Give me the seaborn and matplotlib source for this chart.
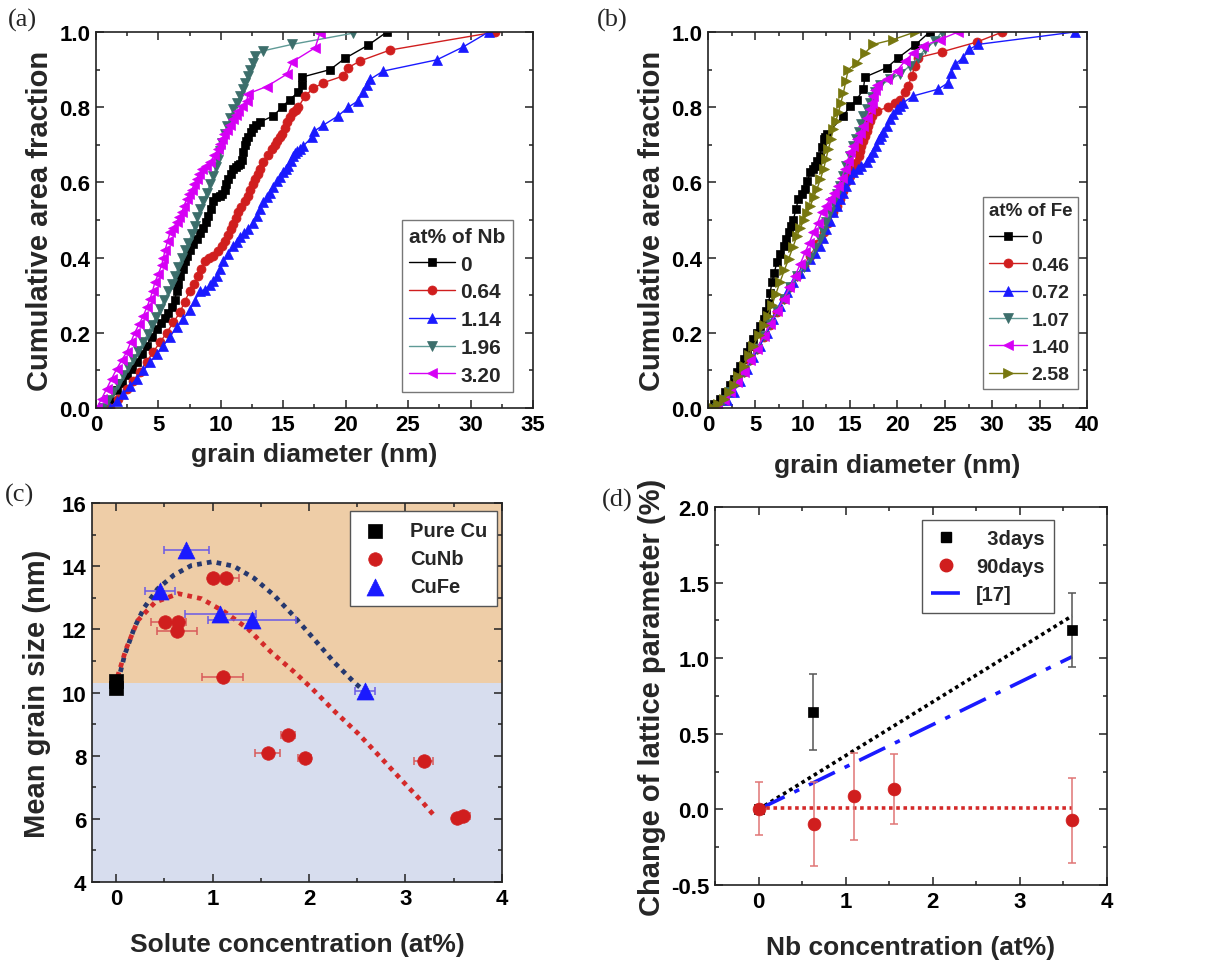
import matplotlib
matplotlib.use("Agg")
import matplotlib.pyplot as plt
import seaborn as sns
from matplotlib.lines import Line2D
from matplotlib.ticker import MultipleLocator

sns.set_theme(style="ticks")
plt.rcParams['font.family'] = ['Liberation Sans', 'DejaVu Sans']
plt.rcParams['font.weight'] = 'bold'
plt.rcParams['axes.labelweight'] = 'bold'
plt.rcParams['axes.unicode_minus'] = False

# ---------------- Panel (a): Nb ----------------
a_labels = ["0", "0.64", "1.14", "1.96", "3.20"]
a_nb0_x = [0.8, 1.2, 1.66, 2.05, 2.46, 2.85, 3.26, 3.65, 4.06, 4.45, 4.86, 5.2, 5.53, 5.8, 6.06, 6.3, 6.46, 6.6, 6.73,
           6.95, 7.13, 7.3, 7.5, 7.8, 8.06, 8.35, 8.6, 8.8, 9.0, 9.2, 9.4, 9.65, 9.94, 10.1, 10.3, 10.45, 10.6, 10.8,
           11.0, 11.2, 11.4, 11.55, 11.7, 11.8, 11.9, 12.05, 12.2, 12.4, 12.6, 12.85, 13.1, 14.2, 14.9, 15.5, 16.2,
           16.5, 16.5, 18.75, 19.95, 21.8, 23.3]
a_nb0_y = [0.0, 0.02, 0.047, 0.066, 0.087, 0.104, 0.122, 0.143, 0.166, 0.19, 0.21, 0.226, 0.24, 0.253, 0.27, 0.288,
           0.31, 0.33, 0.35, 0.37, 0.39, 0.405, 0.42, 0.435, 0.45, 0.465, 0.48, 0.495, 0.51, 0.53, 0.55, 0.56, 0.565,
           0.57, 0.58, 0.595, 0.61, 0.622, 0.635, 0.64, 0.645, 0.65, 0.66, 0.68, 0.70, 0.71, 0.72, 0.733, 0.745,
           0.752, 0.76, 0.777, 0.80, 0.82, 0.84, 0.86, 0.88, 0.90, 0.93, 0.965, 1.0]
a_nb064_x = [1.1, 1.8, 2.5, 3.0, 3.5, 4.05, 4.6, 5.13, 5.66, 6.2, 6.73, 7.1, 7.5, 7.85, 8.2, 8.45, 8.73, 9.05, 9.4,
             9.75, 10.07, 10.35, 10.6, 10.8, 11.0, 11.2, 11.4, 11.65, 11.94, 12.15, 12.34, 12.55, 12.74, 12.95,
             13.14, 13.4, 13.75, 14.08, 14.3, 14.5, 14.7, 14.9, 15.1, 15.3, 15.55, 15.8, 16.0, 16.2, 16.75, 17.4,
             18.2, 19.8, 20.2, 21.15, 23.55, 32.0]
a_nb064_y = [0.0, 0.025, 0.05, 0.073, 0.096, 0.123, 0.15, 0.175, 0.20, 0.228, 0.255, 0.283, 0.31, 0.33, 0.35, 0.37,
             0.39, 0.398, 0.405, 0.418, 0.43, 0.445, 0.46, 0.475, 0.49, 0.505, 0.52, 0.535, 0.55, 0.565, 0.58,
             0.595, 0.61, 0.622, 0.635, 0.653, 0.672, 0.69, 0.70, 0.71, 0.72, 0.73, 0.745, 0.76, 0.773, 0.786,
             0.793, 0.80, 0.83, 0.85, 0.865, 0.883, 0.905, 0.923, 0.952, 1.0]
a_nb114_x = [1.1, 1.65, 2.2, 2.7, 3.26, 3.8, 4.33, 4.87, 5.4, 5.93, 6.46, 7.0, 7.5, 7.9, 8.33, 8.7, 9.13, 9.4, 9.67,
             9.95, 10.2, 10.6, 11.0, 11.27, 11.54, 11.87, 12.2, 12.55, 12.87, 13.13, 13.4, 13.67, 13.94, 14.2, 14.5,
             14.75, 15.0, 15.2, 15.4, 15.6, 15.8, 15.95, 16.1, 16.35, 16.6, 17.3, 17.5, 18.2, 19.4, 20.2, 21.0,
             21.4, 21.7, 21.95, 23.0, 27.3, 29.4, 31.45]
a_nb114_y = [0.0, 0.018, 0.038, 0.058, 0.078, 0.10, 0.122, 0.144, 0.166, 0.19, 0.215, 0.238, 0.26, 0.285, 0.31,
             0.315, 0.326, 0.338, 0.35, 0.37, 0.39, 0.41, 0.43, 0.442, 0.454, 0.465, 0.476, 0.493, 0.51, 0.528,
             0.547, 0.56, 0.573, 0.588, 0.604, 0.615, 0.627, 0.635, 0.644, 0.657, 0.67, 0.677, 0.684, 0.69, 0.697,
             0.72, 0.737, 0.752, 0.777, 0.80, 0.817, 0.84, 0.858, 0.874, 0.896, 0.926, 0.96, 1.0]
a_nb196_x = [0.6, 1.0, 1.4, 1.8, 2.2, 2.6, 3.0, 3.4, 3.8, 4.13, 4.46, 4.8, 5.13, 5.47, 5.8, 6.07, 6.33, 6.6, 6.86,
             7.13, 7.4, 7.67, 7.93, 8.13, 8.33, 8.6, 8.87, 9.13, 9.4, 9.6, 9.8, 9.93, 10.07, 10.3, 10.5, 10.75, 11.0,
             11.27, 11.54, 11.74, 11.94, 12.14, 12.34, 12.54, 12.74, 13.4, 15.7, 20.6]
a_nb196_y = [0.0, 0.021, 0.042, 0.064, 0.087, 0.108, 0.13, 0.152, 0.175, 0.197, 0.22, 0.242, 0.264, 0.287, 0.31,
             0.33, 0.35, 0.375, 0.40, 0.42, 0.44, 0.462, 0.485, 0.507, 0.53, 0.55, 0.573, 0.595, 0.618, 0.64, 0.66,
             0.683, 0.706, 0.728, 0.75, 0.772, 0.795, 0.812, 0.83, 0.848, 0.865, 0.882, 0.90, 0.918, 0.936, 0.95,
             0.967, 0.997]
a_nb320_x = [0.05, 0.45, 0.85, 1.25, 1.66, 2.06, 2.46, 2.78, 3.1, 3.45, 3.8, 4.07, 4.33, 4.53, 4.73, 5.0, 5.26, 5.4,
             5.53, 5.73, 5.93, 6.2, 6.46, 6.66, 6.86, 7.06, 7.26, 7.47, 7.67, 7.87, 8.06, 8.27, 8.47, 8.8, 9.13, 9.47,
             9.8, 9.93, 10.07, 10.28, 10.5, 10.75, 11.0, 11.2, 11.4, 11.73, 12.07, 12.2, 13.67, 15.3, 15.7, 17.55,
             17.95]
a_nb320_y = [0.0, 0.025, 0.051, 0.078, 0.104, 0.127, 0.149, 0.175, 0.20, 0.223, 0.246, 0.268, 0.29, 0.312, 0.335,
             0.357, 0.38, 0.40, 0.42, 0.443, 0.467, 0.48, 0.494, 0.507, 0.52, 0.538, 0.556, 0.568, 0.58, 0.595,
             0.61, 0.622, 0.635, 0.644, 0.653, 0.672, 0.69, 0.702, 0.715, 0.728, 0.74, 0.754, 0.768, 0.779, 0.79,
             0.803, 0.817, 0.836, 0.855, 0.888, 0.92, 0.958, 0.998]

# ---------------- Panel (b): Fe ----------------
b_labels = ["0", "0.46", "0.72", "1.07", "1.40", "2.58"]
b_fe0_x = [0.0, 0.65, 1.3, 1.8, 2.35, 2.7, 3.05, 3.4, 3.76, 4.1, 4.46, 4.8, 5.16, 5.5, 5.86, 6.13, 6.4, 6.57, 6.74,
           7.0, 7.27, 7.63, 8.0, 8.25, 8.5, 8.75, 9.0, 9.27, 9.55, 9.9, 10.25, 10.5, 10.8, 11.05, 11.3, 11.55, 11.8,
           12.0, 12.2, 12.37, 12.54, 14.3, 15.0, 15.7, 16.4, 16.56, 18.86, 20.1, 21.85, 23.4]
b_fe0_y = [0.0, 0.012, 0.025, 0.042, 0.06, 0.078, 0.096, 0.113, 0.13, 0.148, 0.166, 0.183, 0.20, 0.218, 0.237,
           0.258, 0.28, 0.307, 0.335, 0.36, 0.388, 0.41, 0.432, 0.45, 0.467, 0.483, 0.50, 0.528, 0.556, 0.57, 0.582,
           0.605, 0.627, 0.636, 0.644, 0.657, 0.67, 0.693, 0.715, 0.722, 0.728, 0.777, 0.803, 0.82, 0.848, 0.88,
           0.905, 0.932, 0.965, 1.0]
b_fe046_x = [0.95, 1.65, 2.35, 3.05, 3.76, 4.46, 5.16, 5.86, 6.57, 7.27, 7.97, 8.67, 9.38, 10.1, 10.8, 11.5, 12.2,
             12.7, 13.24, 13.6, 13.94, 14.27, 14.6, 15.0, 15.35, 15.6, 15.9, 16.05, 16.2, 16.4, 16.56, 16.73, 16.9,
             17.1, 17.28, 17.8, 19.0, 19.7, 20.26, 20.8, 21.14, 21.5, 21.85, 22.2, 24.65, 28.34, 31.08]
b_fe046_y = [0.0, 0.021, 0.042, 0.069, 0.096, 0.127, 0.158, 0.19, 0.22, 0.255, 0.29, 0.321, 0.352, 0.378, 0.405,
             0.436, 0.467, 0.493, 0.52, 0.538, 0.556, 0.578, 0.60, 0.617, 0.635, 0.652, 0.67, 0.683, 0.697, 0.71,
             0.724, 0.737, 0.75, 0.763, 0.777, 0.79, 0.80, 0.812, 0.82, 0.84, 0.857, 0.883, 0.91, 0.932, 0.947,
             0.973, 1.0]
b_fe072_x = [1.3, 2.0, 2.7, 3.4, 4.1, 4.8, 5.5, 6.2, 6.9, 7.6, 8.3, 9.0, 9.73, 10.25, 10.8, 11.3, 11.8, 12.15, 12.5,
             12.87, 13.24, 13.6, 13.94, 14.27, 14.6, 15.0, 15.35, 15.8, 16.2, 16.75, 17.1, 17.45, 17.72, 18.0,
             18.25, 18.5, 18.85, 19.2, 19.55, 19.9, 20.25, 20.6, 21.67, 24.3, 25.35, 25.7, 26.06, 26.94, 27.6, 28.5,
             38.7]
b_fe072_y = [0.0, 0.021, 0.042, 0.073, 0.104, 0.135, 0.166, 0.20, 0.237, 0.272, 0.308, 0.334, 0.36, 0.378, 0.396,
             0.413, 0.43, 0.453, 0.476, 0.498, 0.52, 0.538, 0.556, 0.573, 0.59, 0.61, 0.627, 0.636, 0.644, 0.653,
             0.667, 0.68, 0.697, 0.715, 0.724, 0.733, 0.75, 0.768, 0.782, 0.795, 0.804, 0.812, 0.83, 0.848, 0.865,
             0.892, 0.914, 0.932, 0.954, 0.967, 1.0]
b_fe107_x = [0.95, 1.65, 2.35, 3.05, 3.76, 4.46, 5.16, 5.86, 6.57, 7.27, 7.97, 8.67, 9.38, 10.1, 10.8, 11.3, 11.8,
             12.15, 12.5, 12.87, 13.24, 13.6, 13.94, 14.27, 14.6, 15.0, 15.35, 15.6, 15.9, 16.15, 16.4, 16.75, 17.1,
             17.35, 17.6, 18.2, 19.2, 20.26, 21.3, 22.2, 22.9, 23.95, 24.65]
b_fe107_y = [0.0, 0.021, 0.042, 0.069, 0.096, 0.127, 0.158, 0.191, 0.224, 0.257, 0.29, 0.321, 0.352, 0.376, 0.40,
             0.425, 0.45, 0.472, 0.494, 0.52, 0.547, 0.568, 0.59, 0.617, 0.644, 0.67, 0.697, 0.715, 0.733, 0.755,
             0.777, 0.795, 0.812, 0.826, 0.84, 0.858, 0.874, 0.888, 0.91, 0.932, 0.954, 0.976, 1.0]
b_fe140_x = [0.95, 1.65, 2.35, 3.05, 3.76, 4.46, 5.16, 5.86, 6.57, 7.27, 7.97, 8.6, 9.2, 9.73, 10.25, 10.7, 11.13,
             11.57, 12.0, 12.45, 12.9, 13.33, 13.77, 14.1, 14.47, 14.73, 15.0, 15.35, 15.7, 16.05, 16.4, 16.75, 17.1,
             17.28, 17.45, 17.62, 17.8, 18.86, 19.9, 20.8, 21.67, 22.7, 24.5, 26.4]
b_fe140_y = [0.0, 0.021, 0.042, 0.069, 0.096, 0.127, 0.158, 0.191, 0.224, 0.257, 0.29, 0.321, 0.352, 0.383, 0.414,
             0.44, 0.467, 0.493, 0.52, 0.538, 0.556, 0.573, 0.59, 0.612, 0.635, 0.657, 0.68, 0.697, 0.715, 0.732,
             0.75, 0.772, 0.795, 0.812, 0.83, 0.845, 0.86, 0.874, 0.896, 0.923, 0.945, 0.963, 0.98, 1.0]
b_fe258_x = [0.6, 1.1, 1.65, 2.2, 2.7, 3.2, 3.76, 4.3, 4.8, 5.33, 5.86, 6.3, 6.74, 7.17, 7.6, 8.05, 8.5, 8.95, 9.4,
             9.75, 10.1, 10.45, 10.8, 11.15, 11.5, 11.85, 12.2, 12.45, 12.7, 12.97, 13.24, 13.5, 13.77, 14.03, 14.3,
             14.55, 14.8, 15.7, 16.6, 17.45, 19.56, 21.85]
b_fe258_y = [0.0, 0.012, 0.025, 0.042, 0.06, 0.086, 0.113, 0.14, 0.166, 0.193, 0.22, 0.246, 0.273, 0.304, 0.335,
             0.366, 0.396, 0.427, 0.458, 0.479, 0.50, 0.519, 0.538, 0.56, 0.582, 0.608, 0.635, 0.662, 0.688, 0.715,
             0.742, 0.764, 0.786, 0.812, 0.839, 0.87, 0.90, 0.918, 0.945, 0.967, 0.98, 1.0]

# ---------------- Panel (c): mean grain size ----------------
c_cu_x = [0.0, 0.0]
c_cu_y = [10.38, 10.14]
c_nb_x = [1.0, 1.135, 0.51, 0.64, 0.634, 1.105, 1.78, 1.57, 1.955, 3.19, 3.53, 3.6]
c_nb_y = [13.62, 13.62, 12.24, 12.24, 11.96, 10.48, 8.66, 8.07, 7.94, 7.84, 6.02, 6.1]
c_nb_xerr = [0.0, 0.14, 0.15, 0.09, 0.205, 0.213, 0.07, 0.13, 0.07, 0.1, 0.0, 0.07]
c_fe_x = [0.73, 0.46, 1.08, 1.41, 2.58]
c_fe_y = [14.5, 13.2, 12.49, 12.3, 10.05]
c_fe_xerr = [0.235, 0.155, 0.37, 0.46, 0.1]
c_fitfe_x = [0.02, 0.09, 0.19, 0.29, 0.43, 0.6, 0.78, 1.0, 1.22, 1.43, 1.64, 1.84, 2.05, 2.26, 2.47, 2.59]
c_fitfe_y = [10.35, 11.2, 12.05, 12.68, 13.28, 13.72, 14.02, 14.14, 14.0, 13.62, 13.07, 12.43, 11.7, 10.96, 10.32,
             10.0]
c_fitnb_x = [0.015, 0.105, 0.225, 0.405, 0.646, 0.886, 1.126, 1.366, 1.607, 1.847, 2.03, 2.27, 2.51, 2.75, 2.99,
             3.17, 3.29]
c_fitnb_y = [10.5, 11.39, 12.28, 12.86, 13.13, 12.97, 12.55, 12.02, 11.28, 10.65, 10.13, 9.39, 8.7, 7.92, 7.13,
             6.55, 6.13]
c_split = 10.3

# ---------------- Panel (d): lattice parameter ----------------
d_3d_x = [0.0, 0.627, 3.6]
d_3d_y = [0.0, 0.643, 1.187]
d_3d_err = [0.0, 0.25, 0.245]
d_90d_x = [0.0, 0.635, 1.1, 1.558, 3.6]
d_90d_y = [0.004, -0.097, 0.086, 0.134, -0.073]
d_90d_err = [0.176, 0.28, 0.29, 0.23, 0.28]
d_fit3_x = [0.0, 3.6]
d_fit3_y = [0.0, 1.28]
d_ref_x = [0.0, 3.6]
d_ref_y = [0.0, 1.01]
d_fit90_x = [0.0, 3.6]
d_fit90_y = [0.012, 0.012]

# ---------------- style ----------------
RED = '#d01e1e'
BLUE = '#1a1aff'
TEAL_M = '#3c6e6b'
TEAL_L = '#5f9a96'
MAG = '#d600f5'
OLIVE = '#77770f'
TICK_FS = 16
XLAB_FS = 19
YLAB_FS = 21
LEG_FS = 15

fig = plt.figure(figsize=(12.26, 9.62), dpi=100)
ax_a = fig.add_axes([0.0783, 0.5748, 0.3564, 0.3909])
ax_b = fig.add_axes([0.5775, 0.5748, 0.3091, 0.3909])
ax_c = fig.add_axes([0.075, 0.0821, 0.3344, 0.394])
ax_d = fig.add_axes([0.5832, 0.079, 0.3197, 0.3929])


def style_axes(ax, xmaj, xmin, ymaj, ymin):
    ax.xaxis.set_major_locator(MultipleLocator(xmaj))
    ax.xaxis.set_minor_locator(MultipleLocator(xmin))
    ax.yaxis.set_major_locator(MultipleLocator(ymaj))
    ax.yaxis.set_minor_locator(MultipleLocator(ymin))
    ax.tick_params(which='both', direction='in', top=True, right=True, width=1.1, colors='#222222',
                   labelcolor='black')
    ax.tick_params(which='major', length=6, labelsize=TICK_FS, pad=4)
    ax.tick_params(which='minor', length=3.2)
    for s in ax.spines.values():
        s.set_linewidth(1.2)
        s.set_color('#222222')
        s.set_visible(True)
    for lab in ax.get_xticklabels() + ax.get_yticklabels():
        lab.set_fontweight('bold')


def curve(ax, x, y, color, marker, label, ms=6.5, mcolor=None):
    mcolor = mcolor or color
    order = sorted(range(len(y)), key=lambda i: (y[i], x[i]))
    xs = [x[i] for i in order]
    ys = [y[i] for i in order]
    sns.lineplot(x=xs, y=ys, ax=ax, sort=False, estimator=None, color=color, linewidth=1.0,
                 marker=marker, markersize=ms, markerfacecolor=mcolor, markeredgecolor=mcolor,
                 markeredgewidth=0.5, label=label)


def boldleg(leg):
    leg.get_frame().set_linewidth(1.0)
    for t in leg.get_texts():
        t.set_fontweight('bold')


# (a)
curve(ax_a, a_nb0_x, a_nb0_y, 'black', 's', a_labels[0], ms=5.5)
curve(ax_a, a_nb064_x, a_nb064_y, RED, 'o', a_labels[1])
curve(ax_a, a_nb114_x, a_nb114_y, BLUE, '^', a_labels[2], ms=7)
curve(ax_a, a_nb196_x, a_nb196_y, TEAL_L, 'v', a_labels[3], ms=7, mcolor=TEAL_M)
curve(ax_a, a_nb320_x, a_nb320_y, MAG, '<', a_labels[4], ms=7)
ax_a.set_xlim(0, 35)
ax_a.set_ylim(0, 1.0)
style_axes(ax_a, 5, 2.5, 0.2, 0.1)
ax_a.set_xlabel('grain diameter (nm)', fontsize=XLAB_FS, fontweight='bold', labelpad=5)
ax_a.set_ylabel('Cumulative area fraction', fontsize=YLAB_FS, fontweight='bold', labelpad=4)
leg = ax_a.legend(title='at% of Nb', loc='lower right', bbox_to_anchor=(0.954, 0.043), borderaxespad=0,
                  fontsize=LEG_FS, title_fontproperties={'weight': 'bold', 'size': LEG_FS}, alignment='left',
                  frameon=True, fancybox=False, edgecolor='#555555', handlelength=2.2,
                  handletextpad=0.25, labelspacing=0.42, borderpad=0.35)
boldleg(leg)

# (b)
curve(ax_b, b_fe0_x, b_fe0_y, 'black', 's', b_labels[0], ms=5.5)
curve(ax_b, b_fe046_x, b_fe046_y, RED, 'o', b_labels[1])
curve(ax_b, b_fe072_x, b_fe072_y, BLUE, '^', b_labels[2], ms=7)
curve(ax_b, b_fe107_x, b_fe107_y, TEAL_L, 'v', b_labels[3], ms=7, mcolor=TEAL_M)
curve(ax_b, b_fe140_x, b_fe140_y, MAG, '<', b_labels[4], ms=7)
curve(ax_b, b_fe258_x, b_fe258_y, OLIVE, '>', b_labels[5], ms=7)
ax_b.set_xlim(0, 40)
ax_b.set_ylim(0, 1.0)
style_axes(ax_b, 5, 2.5, 0.2, 0.1)
ax_b.set_xlabel('grain diameter (nm)', fontsize=XLAB_FS, fontweight='bold', labelpad=13)
ax_b.set_ylabel('Cumulative area fraction', fontsize=YLAB_FS, fontweight='bold', labelpad=4)
leg = ax_b.legend(title='at% of Fe', loc='lower right', bbox_to_anchor=(0.976, 0.05), borderaxespad=0,
                  fontsize=14, title_fontproperties={'weight': 'bold', 'size': 13.5},
                  alignment='left', frameon=True, fancybox=False, edgecolor='#555555', handlelength=2.0,
                  handletextpad=0.2, labelspacing=0.5, borderpad=0.3)
boldleg(leg)

# (c)
ax_c.axhspan(c_split, 16, color='#eecda7', zorder=0, lw=0)
ax_c.axhspan(4, c_split, color='#d7ddee', zorder=0, lw=0)
sns.lineplot(x=c_fitfe_x, y=c_fitfe_y, ax=ax_c, sort=False, estimator=None, color='#26386e',
             linewidth=3.4, linestyle=(0, (1, 1.1)))
sns.lineplot(x=c_fitnb_x, y=c_fitnb_y, ax=ax_c, sort=False, estimator=None, color='#d42a2a',
             linewidth=3.4, linestyle=(0, (1, 1.1)))
ax_c.errorbar(c_nb_x, c_nb_y, xerr=c_nb_xerr, fmt='none', ecolor='#d85a5a', elinewidth=1.1, capsize=3,
              capthick=1.1, zorder=3)
ax_c.errorbar(c_fe_x, c_fe_y, xerr=c_fe_xerr, fmt='none', ecolor='#6a5ae6', elinewidth=1.1, capsize=3,
              capthick=1.1, zorder=3)
sns.scatterplot(x=c_cu_x, y=c_cu_y, ax=ax_c, marker='s', s=90, color='black', edgecolor='black',
                linewidth=0.5, label='Pure Cu', zorder=4)
sns.scatterplot(x=c_nb_x, y=c_nb_y, ax=ax_c, marker='o', s=95, color=RED, edgecolor=RED,
                linewidth=0.5, label='CuNb', zorder=4)
sns.scatterplot(x=c_fe_x, y=c_fe_y, ax=ax_c, marker='^', s=150, color=BLUE, edgecolor=BLUE,
                linewidth=0.5, label='CuFe', zorder=5)
ax_c.set_xlim(-0.25, 4)
ax_c.set_ylim(4, 16)
style_axes(ax_c, 1, 0.5, 2, 1)
ax_c.set_xlabel('Solute concentration (at%)', fontsize=XLAB_FS, fontweight='bold', labelpad=17)
ax_c.set_ylabel('Mean grain size (nm)', fontsize=YLAB_FS, fontweight='bold', labelpad=8)
leg = ax_c.legend(loc='upper right', bbox_to_anchor=(0.988, 0.979), borderaxespad=0, fontsize=14.5,
                  frameon=True, fancybox=False, edgecolor='#555555', framealpha=1, handlelength=1.5,
                  handletextpad=0.95, labelspacing=0.45, borderpad=0.5, markerscale=1.0)
boldleg(leg)

# (d)
sns.lineplot(x=d_fit3_x, y=d_fit3_y, ax=ax_d, color='black', linewidth=2.6, linestyle=(0, (1, 1)))
sns.lineplot(x=d_ref_x, y=d_ref_y, ax=ax_d, color=BLUE, linewidth=2.6, linestyle=(0, (8, 3, 1.5, 3)))
sns.lineplot(x=d_fit90_x, y=d_fit90_y, ax=ax_d, color='#d42a2a', linewidth=2.6, linestyle=(0, (1, 1)))
ax_d.errorbar(d_3d_x[1:], d_3d_y[1:], yerr=d_3d_err[1:], fmt='none', ecolor='#555555', elinewidth=1.1,
              capsize=3, capthick=1.1, zorder=3)
ax_d.errorbar(d_90d_x, d_90d_y, yerr=d_90d_err, fmt='none', ecolor='#e07575', elinewidth=1.1,
              capsize=3, capthick=1.1, zorder=3)
sns.scatterplot(x=d_3d_x, y=d_3d_y, ax=ax_d, marker='s', s=60, color='black', edgecolor='black',
                linewidth=0.5, zorder=4, legend=False)
sns.scatterplot(x=d_90d_x, y=d_90d_y, ax=ax_d, marker='o', s=85, color=RED, edgecolor=RED,
                linewidth=0.5, zorder=5, legend=False)
ax_d.set_xlim(-0.5, 4)
ax_d.set_ylim(-0.5, 2.0)
style_axes(ax_d, 1, 0.5, 0.5, 0.25)
ax_d.set_xlabel('Nb concentration (at%)', fontsize=XLAB_FS, fontweight='bold', labelpad=17)
ax_d.set_ylabel('Change of lattice parameter (%)', fontsize=YLAB_FS, fontweight='bold', labelpad=4)
handles_d = [Line2D([], [], marker='s', color='black', linestyle='none', markersize=7.5),
             Line2D([], [], marker='o', color=RED, linestyle='none', markersize=9),
             Line2D([], [], color=BLUE, linewidth=2.6, linestyle=(0, (8, 3, 1.5, 3)))]
leg = ax_d.legend(handles_d, ['  3days', '90days', '[17]'], loc='upper right', bbox_to_anchor=(0.865, 0.966),
                  borderaxespad=0, fontsize=14.5, frameon=True, fancybox=False, edgecolor='#555555',
                  framealpha=1, handlelength=1.5, handletextpad=0.75, labelspacing=0.45, borderpad=0.45)
boldleg(leg)

# panel letters
for txt, (px, py) in {'(a)': (8, 20), '(b)': (597, 20), '(c)': (5, 495), '(d)': (602, 500)}.items():
    fig.text(px / 1226, 1 - py / 962, txt, fontsize=19, family=['Liberation Serif', 'DejaVu Serif'],
             fontweight='normal', va='center', ha='left')

fig.savefig('out.png', dpi=100)
